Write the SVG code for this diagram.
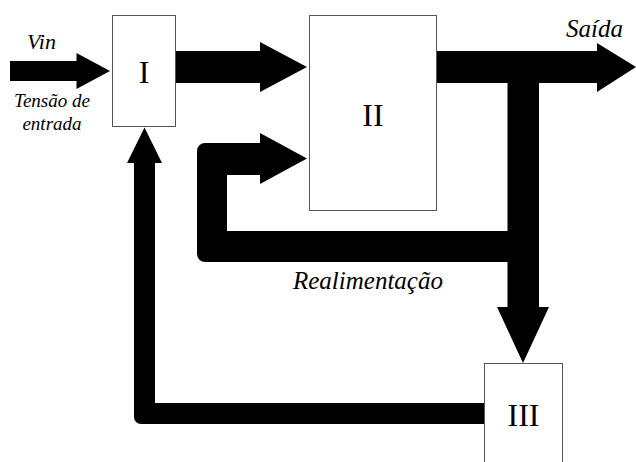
<svg xmlns="http://www.w3.org/2000/svg" width="636" height="462" viewBox="0 0 636 462">
<style>
.box{fill:#fff;stroke:#555;stroke-width:1}
.num{font-size:32px;text-anchor:middle;fill:#000}
.lbl{font-style:italic;fill:#000}
.arr{fill:#000;stroke:none}
</style>
<rect width="636" height="462" fill="#fff"/>
<g id="connectors">
  <path class="arr" d="M10,61 H76.5 V53 L110,71 L76.5,89 V81 H10 Z"/>
  <path class="arr" d="M176,51 H260 V42 L307,67 L260,92 V83 H176 Z"/>
  <path class="arr" d="M436,51 H597 V43 L636,67 L597,92 V83 H436 Z"/>
  <path class="arr" d="M507.5,83 H539 V307 H549 L523,363 L497,307 H507.5 Z"/>
  <path class="arr" d="M508,231 H227 V175 H260 V184 L307,158.5 L260,133 V143 H205 A8,8 0 0 0 197,151 V254 A8,8 0 0 0 205,262 H508 Z"/>
  <path class="arr" d="M484,403 H155 V163 H162 L144.5,127.5 L127,163 H134 V417 A7,7 0 0 0 141,424 H484 Z"/>
</g>
<g id="node-I" font-family="Liberation Serif, serif">
  <rect class="box" x="112.5" y="15.5" width="63" height="111"/>
  <text class="num" x="144" y="83">I</text>
</g>
<g id="node-II" font-family="Liberation Serif, serif">
  <rect class="box" x="309.5" y="15.5" width="127" height="195"/>
  <text class="num" x="373" y="126">II</text>
</g>
<g id="node-III" font-family="Liberation Serif, serif">
  <rect class="box" x="484.5" y="363.5" width="78" height="110"/>
  <text class="num" x="523.5" y="426">III</text>
</g>
<g id="labels" font-family="Liberation Serif, serif">
  <text class="lbl" x="27" y="49" font-size="22">Vin</text>
  <text class="lbl" x="52" y="107" font-size="19" text-anchor="middle">Tensão de</text>
  <text class="lbl" x="52" y="130" font-size="19" text-anchor="middle">entrada</text>
  <text class="lbl" x="566" y="37" font-size="25">Saída</text>
  <text class="lbl" x="293" y="289" font-size="25">Realimentação</text>
</g>
</svg>
